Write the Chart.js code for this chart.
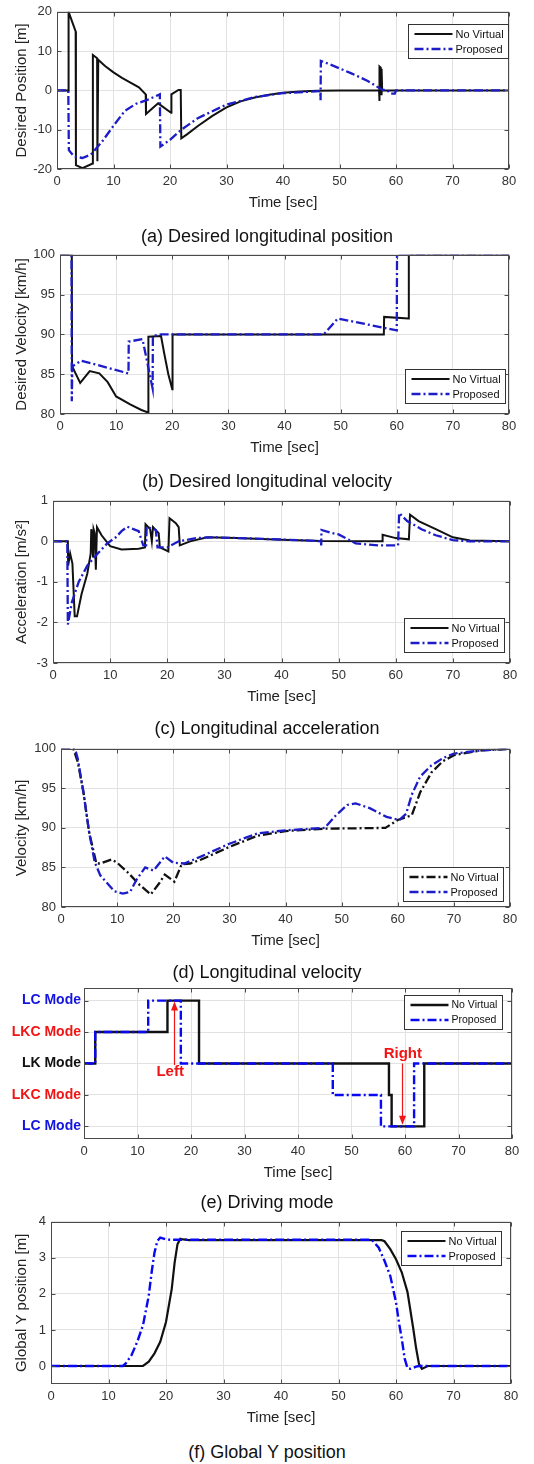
<!DOCTYPE html>
<html>
<head>
<meta charset="utf-8">
<script src="https://cdn.jsdelivr.net/npm/chart.js@4.4.1/dist/chart.umd.min.js"></script>
<style>
html, body { margin: 0; padding: 0; background: #fff; }
#page { position: relative; width: 534px; height: 1464px; overflow: hidden; font-family: "Liberation Sans", Arial, sans-serif; }
#page canvas { position: absolute; left: 0; }
.cap { position: absolute; left: 0; width: 534px; text-align: center; font-size: 18px; line-height: 21px; color: #111; }
</style>
</head>
<body>
<div id="page">
  <canvas id="cA"></canvas>
  <canvas id="cB"></canvas>
  <canvas id="cC"></canvas>
  <canvas id="cD"></canvas>
  <canvas id="cE"></canvas>
  <canvas id="cF"></canvas>
  <div class="cap" style="top:226px">(a) Desired longitudinal position</div>
  <div class="cap" style="top:471px">(b) Desired longitudinal velocity</div>
  <div class="cap" style="top:718px">(c) Longitudinal acceleration</div>
  <div class="cap" style="top:962px">(d) Longitudinal velocity</div>
  <div class="cap" style="top:1192px">(e) Driving mode</div>
  <div class="cap" style="top:1442px">(f) Global Y position</div>
</div>
<script>
// --- data (time [sec], value) ---
const timeTicks = [0, 10, 20, 30, 40, 50, 60, 70, 80];
const seriesNames = ['No Virtual', 'Proposed'];

// (a) desired longitudinal position [m]
const posTicks = [-20, -10, 0, 10, 20];
const posNoVirtual = [[0,0],[2.0,0],[2.05,20],[3.3,15],[3.35,-19],[4.5,-19.8],[6.3,-18.6],[6.35,9],[7.1,8.2],[7.15,-18],[7.3,7.8],
  [8.5,6.2],[10,4.6],[11.5,3.2],[13,2],[14.5,0.8],[15.7,-1],[15.75,-6],[17.9,-3.3],[20.2,-5.7],[20.25,-1],[21.5,0.1],[21.9,0.1],
  [22.0,-12.2],[23,-11.2],[25,-9],[27.5,-6.5],[30,-4.3],[32.5,-2.8],[35,-1.8],[37.5,-1.1],[40,-0.6],[43,-0.3],[46,-0.1],[50,0],
  [57,0],[57.05,-2.7],[57.1,6.1],[57.3,5.8],[57.35,-1],[57.45,5.5],[57.55,0],[80,0]];
const posProposed = [[0,0],[2.0,0],[2.1,-15.2],[3,-16.8],[4.5,-17.2],[6,-16.3],[8,-13],[10,-9],[12,-5.2],[14,-3.4],[16,-2.4],
  [18.2,-1],[18.3,-14.3],[20,-12.6],[22,-10],[25,-7],[30,-3.6],[35,-1.7],[40,-0.7],[46.6,-0.2],[46.65,-2.5],[46.7,7.5],[48,6.8],
  [50,5.6],[52,4.4],[55,2.4],[57.5,0.2],[58.5,0],[59,-0.8],[59.8,-0.8],[60,0],[80,0]];

// (b) desired longitudinal velocity [km/h]
const velTicks = [80, 85, 90, 95, 100];
const desVelNoVirtual = [[0,100],[2.1,100],[2.15,86],[3.6,83.9],[5.3,85.4],[7,85.1],[8.5,84],[10,82.2],[12.5,81.2],[14.5,80.5],
  [15.7,80.2],[15.75,89.7],[18,89.8],[18.6,87.5],[19.3,85],[20.0,83.1],[20.05,90],[57.7,90],[57.75,92.2],[62.1,92],[62.15,100],[80,100]];
const desVelProposed = [[0,100],[2.05,100],[2.1,81.6],[2.2,86],[3.8,86.7],[12.2,85.1],[12.25,89.1],[14.7,89.4],[16.5,83.2],
  [16.55,89.8],[18,90],[47,90],[49.5,92],[60,90.5],[60.05,100],[80,100]];

// (c) longitudinal acceleration [m/s^2]
const accTicks = [-3, -2, -1, 0, 1];
const accNoVirtual = [[0,0],[2.6,0],[2.65,-0.6],[3.0,-0.3],[3.4,-0.55],[3.8,-1.85],[4.2,-1.85],[5,-1.3],[6,-0.8],[6.6,-0.3],
  [6.7,0.3],[6.9,0.1],[7.0,-0.4],[7.1,0.3],[7.3,0.2],[7.5,-0.7],[7.7,0.35],[8.5,0.15],[10,-0.12],[12,-0.2],[15,-0.18],[16.1,-0.15],
  [16.2,0.42],[17,0.3],[17.3,0],[17.5,0.35],[18.5,0.2],[18.7,-0.15],[20.2,-0.25],[20.4,0.57],[21.5,0.45],[22,0.35],[22.2,-0.1],
  [24,0],[27,0.1],[32,0.08],[40,0.04],[47,0.01],[57.6,0],[57.7,0.16],[60,0.08],[62.3,0.05],[62.5,0.66],[64,0.5],[67,0.3],
  [70,0.1],[73,0.02],[80,0]];
const accProposed = [[0,0],[2.5,0],[2.6,-2.05],[3.3,-1.5],[4.5,-1.0],[6,-0.6],[7.5,-0.35],[9.5,-0.05],[11,0.1],[12,0.25],[13,0.36],
  [15,0.25],[15.8,-0.1],[16.3,-0.1],[16.4,0.36],[18,0.28],[18.3,-0.15],[20,-0.15],[22,0],[25,0.08],[28,0.1],[35,0.07],[45,0.02],
  [46.9,0],[46.95,-0.1],[47,0.28],[49,0.2],[50,0.17],[53,-0.05],[57,-0.1],[60.4,-0.1],[60.6,0.7],[62,0.5],[64.5,0.3],[67,0.15],
  [70,0.03],[73,0],[80,0]];

// (d) longitudinal velocity [km/h]
const speedNoVirtual = [[0,100],[2.2,100],[3,98.3],[4,94.5],[5,89.5],[6.3,85.5],[7,85.5],[9,86],[10,85.6],[12,84.3],[14,82.8],
  [16,81.6],[17.5,83],[18.5,84.1],[20.2,83.2],[21.5,85.4],[23,85.5],[25,86],[30,87.6],[35,89],[40,89.6],[47,89.9],[57.8,90],
  [60,91],[62.5,91.6],[64,94.5],[66,97],[68,98.4],[70,99.2],[75,99.8],[80,100]];
const speedProposed = [[0,100],[2.5,100],[3,98.7],[4,94.5],[5,89.5],[6,85.7],[7,84],[8,83.2],[9.5,82],[11,81.7],[12.3,81.9],
  [13.5,83.5],[15,85],[16.5,84.6],[18.5,86.4],[20,85.6],[22,85.5],[25,86.4],[30,88],[35,89.3],[40,89.7],[47,90],[49,91.6],
  [51,92.9],[52.5,93.1],[55,92.5],[58,91.4],[60.3,91],[61.5,91.8],[62.5,94.2],[64,96.5],[66,97.9],[68,98.8],[70,99.4],[75,99.8],[80,100]];

// (e) driving mode (step changes)
const modeValues = [2, 1, 0, -1, -2];
const modeLabels = ['LC Mode', 'LKC Mode', 'LK Mode', 'LKC Mode', 'LC Mode'];
const modeNoVirtual = [[0,0],[2.1,1],[15.6,2],[21.5,0],[57.0,-1],[57.5,-2],[63.6,0],[80,0]];
const modeProposed = [[0,0],[2.1,1],[12.0,2],[18.1,0],[46.5,-1],[55.5,-2],[61.7,0],[80,0]];
const modeArrows = [
  { text: 'Left', t: 16.8, from: -0.05, to: 1.97, textT: 16.1, textY: -0.28 },
  { text: 'Right', t: 59.5, from: 0.0, to: -1.95, textT: 59.6, textY: 0.31 }
];

// (f) global Y position [m]
const yPosTicks = [0, 1, 2, 3, 4];
const yPosNoVirtual = [[0,0],[16,0],[17,0.12],[18,0.35],[19,0.67],[20,1.22],[21,2.14],[21.5,2.87],[22,3.38],[22.5,3.53],[23,3.51],
  [24,3.49],[57.5,3.49],[58,3.46],[59,3.24],[60,2.96],[61,2.6],[62,2.05],[63,1.04],[63.5,0.49],[64,0.05],[64.5,-0.08],[65.5,0],[80,0]];
const yPosProposed = [[0,0],[12.5,0],[13,0.07],[14,0.3],[15,0.67],[16,1.13],[17,1.95],[17.5,2.6],[18,3.15],[18.5,3.47],[19,3.56],
  [20,3.51],[21,3.5],[55.5,3.5],[56,3.47],[57,3.28],[58,2.92],[59,2.5],[60,1.77],[60.5,1.22],[61,0.76],[61.5,0.21],[62,-0.06],
  [62.5,-0.08],[63.5,-0.02],[64,0],[80,0]];

// --- styling ---
const W = 534;
const FONT = '"Liberation Sans", Arial, sans-serif';
const GRID = '#e2e2e2';
const BLACK = '#111111';
const BLUE = '#1c1cc8';
const BRIGHT_BLUE = '#0808f2';
const RED = '#f01414';
const modeColors = ['#1414e0', RED, '#111111', RED, '#1414e0'];
const DASHDOT = [9, 3, 2, 3];

function toXY(pairs) {
  return pairs.map(p => ({ x: p[0], y: p[1] }));
}

function drawLegend(chart, lg) {
  const { ctx, chartArea: a } = chart;
  const items = chart.data.datasets;
  ctx.save();
  ctx.font = lg.size + 'px ' + FONT;
  const textW = Math.max(...items.map(d => ctx.measureText(d.label).width));
  const lineLen = lg.lineLen || 38, rowH = lg.rowH || 15;
  const w = Math.round(6 + lineLen + 3 + textW + 5);
  const h = items.length * rowH + 4;
  const x = Math.round(a.right - lg.dx - w) + 0.5;
  const y = Math.round(lg.corner === 'top' ? a.top + lg.dy : a.bottom - lg.dy - h) + 0.5;
  ctx.fillStyle = '#fff';
  ctx.fillRect(x, y, w, h);
  ctx.strokeStyle = '#333';
  ctx.lineWidth = 1;
  ctx.setLineDash([]);
  ctx.strokeRect(x, y, w, h);
  items.forEach((d, i) => {
    const cy = y + 2 + rowH * (i + 0.5);
    ctx.beginPath();
    ctx.setLineDash(d.borderDash || []);
    ctx.strokeStyle = d.borderColor;
    ctx.lineWidth = d.borderWidth;
    ctx.moveTo(x + 6, cy);
    ctx.lineTo(x + 6 + lineLen, cy);
    ctx.stroke();
    ctx.setLineDash([]);
    ctx.fillStyle = '#111';
    ctx.textBaseline = 'middle';
    ctx.textAlign = 'left';
    ctx.fillText(d.label, x + 6 + lineLen + 3, cy + 0.5);
  });
  ctx.restore();
}

function drawArrows(chart, list) {
  const { ctx, scales: { x, y } } = chart;
  ctx.save();
  list.forEach(ar => {
    const px = Math.round(x.getPixelForValue(ar.t)) + 0.5;
    const y0 = y.getPixelForValue(ar.from), y1 = y.getPixelForValue(ar.to);
    const dir = Math.sign(y1 - y0);
    ctx.strokeStyle = RED;
    ctx.fillStyle = RED;
    ctx.lineWidth = 1.2;
    ctx.setLineDash([]);
    ctx.beginPath();
    ctx.moveTo(px, y0);
    ctx.lineTo(px, y1 - dir * 6);
    ctx.stroke();
    ctx.beginPath();
    ctx.moveTo(px, y1);
    ctx.lineTo(px - 3.5, y1 - dir * 9);
    ctx.lineTo(px + 3.5, y1 - dir * 9);
    ctx.closePath();
    ctx.fill();
    ctx.font = 'bold 15px ' + FONT;
    ctx.textAlign = 'center';
    ctx.textBaseline = 'middle';
    ctx.fillText(ar.text, x.getPixelForValue(ar.textT), y.getPixelForValue(ar.textY));
  });
  ctx.restore();
}

function boxPlugin(o) {
  return {
    id: 'matlabBox',
    afterDatasetsDraw(chart) {
      const { ctx, chartArea: a, scales: { x, y } } = chart;
      ctx.save();
      ctx.strokeStyle = '#4a4a4a';
      ctx.lineWidth = 1;
      ctx.setLineDash([]);
      const L = Math.round(a.left) + 0.5, R = Math.round(a.right) - 0.5;
      const T = Math.round(a.top) + 0.5, B = Math.round(a.bottom) - 0.5;
      ctx.strokeRect(L, T, R - L, B - T);
      ctx.beginPath();
      x.ticks.forEach(t => {
        const px = Math.round(x.getPixelForValue(t.value)) + 0.5;
        ctx.moveTo(px, B); ctx.lineTo(px, B - 4);
        ctx.moveTo(px, T); ctx.lineTo(px, T + 4);
      });
      y.ticks.forEach(t => {
        const py = Math.round(y.getPixelForValue(t.value)) + 0.5;
        ctx.moveTo(L, py); ctx.lineTo(L + 4, py);
        ctx.moveTo(R, py); ctx.lineTo(R - 4, py);
      });
      ctx.stroke();
      ctx.restore();
      if (o.arrows) drawArrows(chart, o.arrows);
      drawLegend(chart, o.legend);
    }
  };
}

function makePanel(id, o) {
  const padTop = 12, xH = o.xH || 44;
  const cv = document.getElementById(id);
  cv.width = W;
  cv.height = o.box.bottom - o.box.top + padTop + xH;
  cv.style.top = (o.box.top - padTop) + 'px';
  const tickFont = { family: FONT, size: 13 };
  return new Chart(cv, {
    type: 'line',
    data: {
      datasets: o.series.map((s, i) => ({
        label: s.label,
        data: toXY(s.data),
        borderColor: s.color,
        borderWidth: s.width,
        borderDash: s.dash || [],
        stepped: o.stepped ? true : false,
        order: o.series.length - i, // proposed drawn on top
        pointRadius: 0,
        tension: 0,
        fill: false
      }))
    },
    options: {
      responsive: false,
      animation: false,
      events: [],
      layout: { padding: { top: padTop, right: W - o.box.right, left: 0, bottom: 0 } },
      plugins: { legend: { display: false }, tooltip: { enabled: false } },
      scales: {
        x: {
          type: 'linear', min: 0, max: 80,
          afterBuildTicks: s => { s.ticks = timeTicks.map(v => ({ value: v })); },
          ticks: { font: tickFont, color: '#333', padding: 5, maxRotation: 0, autoSkip: false },
          grid: { color: GRID, drawTicks: false },
          border: { display: false },
          title: { display: true, text: 'Time [sec]', font: { family: FONT, size: 15 }, color: '#222', padding: { top: 0, bottom: 1 } },
          afterFit: s => { s.height = xH; }
        },
        y: {
          type: 'linear', min: o.yMin, max: o.yMax,
          afterBuildTicks: s => { s.ticks = o.yTicks.map(v => ({ value: v })); },
          ticks: {
            font: o.yTickFont || tickFont,
            color: o.yTickColor || '#333',
            padding: o.yTickPad || 5,
            autoSkip: false,
            callback: o.yLabel || (v => v)
          },
          grid: { color: GRID, drawTicks: false },
          border: { display: false },
          title: {
            display: !!o.yTitle, text: o.yTitle || '',
            font: { family: FONT, size: 15 }, color: '#222',
            padding: { top: o.yTitlePad || 13, bottom: 0 }
          },
          afterFit: s => { s.width = o.box.left; }
        }
      }
    },
    plugins: [boxPlugin(o)]
  });
}

makePanel('cA', {
  box: { left: 57, right: 509, top: 11, bottom: 169 },
  yMin: -20, yMax: 20, yTicks: posTicks, yTitle: 'Desired Position [m]',
  series: [
    { label: seriesNames[0], data: posNoVirtual, color: BLACK, width: 2 },
    { label: seriesNames[1], data: posProposed, color: BLUE, width: 2.3, dash: DASHDOT }
  ],
  legend: { corner: 'top', dx: 1, dy: 12, size: 11 }
});

makePanel('cB', {
  box: { left: 60, right: 509, top: 254, bottom: 414 },
  yMin: 80, yMax: 100, yTicks: velTicks, yTitle: 'Desired Velocity [km/h]',
  series: [
    { label: seriesNames[0], data: desVelNoVirtual, color: BLACK, width: 2 },
    { label: seriesNames[1], data: desVelProposed, color: BLUE, width: 2.3, dash: DASHDOT }
  ],
  legend: { corner: 'bottom', dx: 4, dy: 11, size: 11 }
});

makePanel('cC', {
  box: { left: 53, right: 510, top: 500, bottom: 663 },
  yMin: -3, yMax: 1, yTicks: accTicks, yTitle: 'Acceleration [m/s²]',
  series: [
    { label: seriesNames[0], data: accNoVirtual, color: BLACK, width: 2 },
    { label: seriesNames[1], data: accProposed, color: BLUE, width: 2.3, dash: DASHDOT }
  ],
  legend: { corner: 'bottom', dx: 6, dy: 11, size: 11 }
});

makePanel('cD', {
  box: { left: 61, right: 510, top: 748, bottom: 907 },
  yMin: 80, yMax: 100, yTicks: velTicks, yTitle: 'Velocity [km/h]',
  series: [
    { label: seriesNames[0], data: speedNoVirtual, color: BLACK, width: 2.3, dash: DASHDOT },
    { label: seriesNames[1], data: speedProposed, color: BLUE, width: 2.3, dash: DASHDOT }
  ],
  legend: { corner: 'bottom', dx: 7, dy: 6, size: 11 }
});

makePanel('cE', {
  box: { left: 84, right: 512, top: 988, bottom: 1139 },
  yMin: -2.4, yMax: 2.4, yTicks: modeValues,
  yLabel: v => modeLabels[modeValues.indexOf(v)],
  yTickColor: c => modeColors[modeValues.indexOf(c.tick.value)],
  yTickFont: { family: FONT, size: 14, weight: 'bold' },
  yTickPad: 3,
  stepped: true,
  series: [
    { label: seriesNames[0], data: modeNoVirtual, color: BLACK, width: 2.4 },
    { label: seriesNames[1], data: modeProposed, color: BRIGHT_BLUE, width: 2.4, dash: DASHDOT }
  ],
  arrows: modeArrows,
  legend: { corner: 'top', dx: 10, dy: 7, size: 10.5 }
});

makePanel('cF', {
  box: { left: 51, right: 511, top: 1221, bottom: 1384 },
  yMin: -0.5, yMax: 4, yTicks: yPosTicks, yTitle: 'Global Y position [m]',
  series: [
    { label: seriesNames[0], data: yPosNoVirtual, color: BLACK, width: 2.2 },
    { label: seriesNames[1], data: yPosProposed, color: BRIGHT_BLUE, width: 2.4, dash: DASHDOT }
  ],
  legend: { corner: 'top', dx: 10, dy: 9, size: 11 }
});
</script>
</body>
</html>
